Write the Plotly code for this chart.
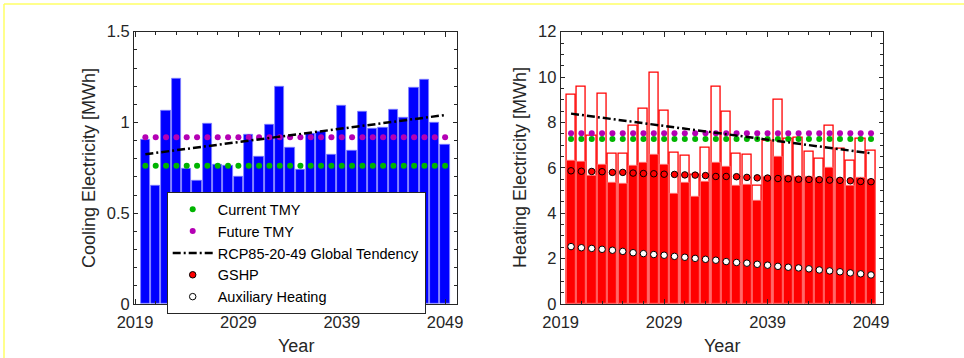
import plotly.graph_objects as go

# ---------------- data ----------------
years = list(range(2020, 2050))

cooling = [0.905, 0.652, 1.063, 1.240, 0.744, 0.679, 0.993, 0.770, 0.762, 0.704,
           0.931, 0.810, 0.988, 1.199, 0.860, 0.742, 0.940, 0.949, 0.823, 1.091,
           0.843, 1.058, 0.964, 0.971, 1.073, 1.026, 1.190, 1.233, 0.997, 0.878]

heating_total = [9.24, 9.59, 7.42, 9.26, 6.64, 6.63, 7.85, 8.59, 10.18, 8.52,
                 6.68, 6.53, 5.72, 6.91, 9.56, 8.47, 6.63, 6.60, 5.23, 7.20,
                 9.02, 7.29, 7.35, 6.72, 6.41, 7.85, 6.83, 6.32, 7.29, 6.77]

heating_gshp = [6.31, 6.29, 5.65, 6.16, 5.33, 5.30, 6.09, 6.23, 6.57, 6.12,
                4.86, 5.34, 4.73, 5.40, 6.21, 6.06, 5.23, 5.24, 4.56, 5.60,
                6.47, 5.66, 5.61, 5.61, 5.58, 5.99, 5.52, 5.23, 5.56, 5.48]

gshp_points = [5.87, 5.85, 5.84, 5.83, 5.80, 5.80, 5.77, 5.75, 5.74, 5.72,
               5.71, 5.69, 5.68, 5.66, 5.62, 5.62, 5.61, 5.58, 5.56, 5.55,
               5.53, 5.52, 5.50, 5.49, 5.48, 5.46, 5.45, 5.43, 5.40, 5.39]

aux_points = [2.53, 2.48, 2.45, 2.41, 2.37, 2.32, 2.26, 2.22, 2.18, 2.15,
              2.10, 2.06, 2.01, 1.97, 1.93, 1.87, 1.83, 1.80, 1.75, 1.71,
              1.66, 1.62, 1.59, 1.55, 1.50, 1.46, 1.42, 1.37, 1.33, 1.28]

cool_current_tmy = [0.762] * len(years)
cool_future_tmy = [0.918] * len(years)
heat_current_tmy = [7.27] * len(years)
heat_future_tmy = [7.53] * len(years)

trend_years = [2020, 2049]
cool_trend = [0.825, 1.041]
heat_trend = [8.39, 6.64]

xtick_vals = [2019, 2029, 2039, 2049]
xtick_text = ["2019", "2029", "2039", "2049"]

# ---------------- layout helpers ----------------
W, H = 964, 358


def px(x):
    return x / W


def py(y):
    return 1 - y / H


TXT = "#262626"
FONT = "Liberation Sans, Arial, Helvetica, sans-serif"
GREEN = "#00b400"
PURPLE = "#b400b4"
TREND_DASH = "8px,3px,2px,3px"

fig = go.Figure()

# ---------------- left: cooling ----------------
fig.add_trace(go.Bar(x=years, y=cooling, width=0.9,
                     marker=dict(color="#0000ff", line=dict(color="#8080ff", width=0.8)),
                     showlegend=False, xaxis="x", yaxis="y", hoverinfo="skip"))
fig.add_trace(go.Scatter(x=years, y=cool_current_tmy, mode="markers", name="Current TMY",
                         marker=dict(color=GREEN, size=6), xaxis="x", yaxis="y"))
fig.add_trace(go.Scatter(x=years, y=cool_future_tmy, mode="markers", name="Future TMY",
                         marker=dict(color=PURPLE, size=6), xaxis="x", yaxis="y"))
fig.add_trace(go.Scatter(x=trend_years, y=cool_trend, mode="lines",
                         name="RCP85-20-49 Global Tendency",
                         line=dict(color="black", width=2.5, dash=TREND_DASH),
                         xaxis="x", yaxis="y"))

# ---------------- right: heating ----------------
fig.add_trace(go.Bar(x=years, y=heating_total, width=0.88,
                     marker=dict(color="white", line=dict(color="#ff0000", width=1.3)),
                     showlegend=False, xaxis="x2", yaxis="y2", hoverinfo="skip"))
fig.add_trace(go.Bar(x=years, y=heating_gshp, width=0.88,
                     marker=dict(color="#ff0000", line=dict(color="#ff8080", width=0.8)),
                     showlegend=False, xaxis="x2", yaxis="y2", hoverinfo="skip"))
fig.add_trace(go.Scatter(x=years, y=heat_current_tmy, mode="markers", showlegend=False,
                         marker=dict(color=GREEN, size=6), xaxis="x2", yaxis="y2"))
fig.add_trace(go.Scatter(x=years, y=heat_future_tmy, mode="markers", showlegend=False,
                         marker=dict(color=PURPLE, size=6), xaxis="x2", yaxis="y2"))
fig.add_trace(go.Scatter(x=trend_years, y=heat_trend, mode="lines", showlegend=False,
                         line=dict(color="black", width=2.5, dash=TREND_DASH),
                         xaxis="x2", yaxis="y2"))
fig.add_trace(go.Scatter(x=years, y=gshp_points, mode="markers", name="GSHP",
                         marker=dict(color="#ff0000", size=6.5, line=dict(color="black", width=1)),
                         xaxis="x2", yaxis="y2"))
fig.add_trace(go.Scatter(x=years, y=aux_points, mode="markers", name="Auxiliary Heating",
                         marker=dict(color="white", size=6.5, line=dict(color="black", width=1)),
                         xaxis="x2", yaxis="y2"))

axis_common = dict(showline=True, linecolor=TXT, linewidth=1, mirror="ticks",
                   ticks="inside", tickcolor=TXT, showgrid=False, zeroline=False,
                   tickfont=dict(family=FONT, size=16.5, color=TXT), automargin=False)

title_font = dict(family=FONT, size=18, color=TXT)

fig.update_layout(
    width=W, height=H,
    margin=dict(l=0, r=0, t=0, b=0),
    paper_bgcolor="white", plot_bgcolor="white",
    barmode="overlay", bargap=0,
    font=dict(family=FONT, color=TXT),
    xaxis=dict(domain=[px(134), px(457)], range=[2018.9, 2050.15], anchor="y",
               tickmode="array", tickvals=xtick_vals, ticktext=xtick_text, ticklen=5,
               ticklabelstandoff=3,
               minor=dict(tick0=2019, dtick=2, ticks="inside", ticklen=3, tickcolor=TXT),
               **axis_common),
    yaxis=dict(domain=[py(304), py(31.7)], range=[0, 1.5], anchor="x",
               tickmode="linear", tick0=0, dtick=0.5, ticklen=4,
               minor=dict(dtick=0.1, ticks="inside", ticklen=3, tickcolor=TXT),
               **axis_common),
    xaxis2=dict(domain=[px(560.7), px(883)], range=[2019.0, 2050.16], anchor="y2",
                tickmode="array", tickvals=xtick_vals, ticktext=xtick_text, ticklen=5,
                ticklabelstandoff=3,
                minor=dict(tick0=2019, dtick=2, ticks="inside", ticklen=3, tickcolor=TXT),
                **axis_common),
    yaxis2=dict(domain=[py(304), py(31.7)], range=[0, 12], anchor="x2",
                tickmode="linear", tick0=0, dtick=2, ticklen=4,
                minor=dict(dtick=0.5, ticks="inside", ticklen=3, tickcolor=TXT),
                **axis_common),
    legend=dict(x=px(166.7), y=py(192.3), xanchor="left", yanchor="top",
                bgcolor="white", bordercolor=TXT, borderwidth=1,
                font=dict(family=FONT, size=14.5, color="black"), itemwidth=40,
                traceorder="normal"),
    annotations=[
        dict(text="Cooling Electricity [MWh]", x=px(89), y=py(168), xref="paper", yref="paper",
             xanchor="center", yanchor="middle",
             textangle=-90, showarrow=False, font=title_font),
        dict(text="Heating Electricity [MWh]", x=px(520), y=py(168), xref="paper", yref="paper",
             xanchor="center", yanchor="middle",
             textangle=-90, showarrow=False, font=title_font),
        dict(text="Year", x=px(295.5), y=py(346), xref="paper", yref="paper",
             xanchor="center", yanchor="middle", showarrow=False, font=title_font),
        dict(text="Year", x=px(722), y=py(346), xref="paper", yref="paper",
             xanchor="center", yanchor="middle", showarrow=False, font=title_font),
    ],
    shapes=[
        dict(type="line", xref="paper", yref="paper", x0=px(4), x1=1, y0=py(4), y1=py(4),
             line=dict(color="#ffff66", width=1.5)),
        dict(type="line", xref="paper", yref="paper", x0=px(4), x1=px(4), y0=py(4), y1=0,
             line=dict(color="#ffff66", width=1.5)),
    ],
)

fig.write_html("out.html",
               config={"displayModeBar": False},
               post_script="document.body.style.margin='0';document.body.style.overflow='hidden';")
